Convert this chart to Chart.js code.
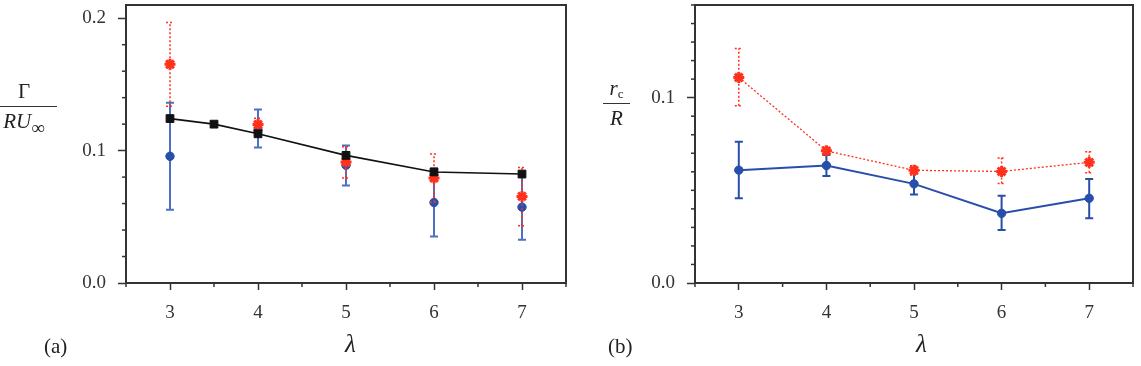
<!DOCTYPE html>
<html>
<head>
<meta charset="utf-8">
<script src="https://cdn.jsdelivr.net/npm/chart.js@4"></script>
<style>
  body { margin: 0; background: #fff; }
  #wrap { position: relative; width: 1141px; height: 366px; overflow: hidden; }
  canvas { position: absolute; top: 0; }
  .lab { position: absolute; font-family: "Liberation Serif", serif; color: #222; font-size: 21px; line-height: 22px; }
  .frac { text-align: center; }
  .frac .num { border-bottom: 1.4px solid #333; padding-bottom: 4px; }
  .frac .den { padding-top: 3px; }
  sub { font-size: 14px; vertical-align: -5px; line-height: 0; }
</style>
</head>
<body>
<div id="wrap">
  <canvas id="chartA" width="570" height="366" style="left:0"></canvas>
  <canvas id="chartB" width="571" height="366" style="left:570px"></canvas>

  <div class="lab frac" style="left:-9px;top:80px;width:66px">
    <div class="num">Γ</div>
    <div class="den"><i>RU</i><sub style="font-size:19px;vertical-align:-6px">∞</sub></div>
  </div>
  <div class="lab frac" style="left:603px;top:77px;width:27px">
    <div class="num"><i>r</i><sub style="font-size:13px;vertical-align:-3px">c</sub></div>
    <div class="den"><i>R</i></div>
  </div>
  <div class="lab" style="left:44px;top:335px">(a)</div>
  <div class="lab" style="left:608px;top:335px">(b)</div>
  <div class="lab" style="left:345px;top:333px;font-size:25px"><i>λ</i></div>
  <div class="lab" style="left:916px;top:333px;font-size:25px"><i>λ</i></div>
</div>

<script>
// λ の値
const lambdas = [3, 4, 5, 6, 7];
const lambdasBlack = [3, 3.5, 4, 5, 6, 7];

// (a) Γ/(R U∞)
const gammaBlack = [0.1242, 0.1200, 0.1127, 0.0964, 0.0839, 0.0823];
const gammaBlue = [0.0957, 0.1155, 0.0889, 0.0608, 0.0573];
const gammaBlueLow = [0.0553, 0.1023, 0.0737, 0.0351, 0.0326];
const gammaBlueHigh = [0.1361, 0.1310, 0.1038, 0.0865, 0.0820];
const gammaRed = [0.1652, 0.1197, 0.0914, 0.0793, 0.0654];
const gammaRedLow = [0.1336, 0.1150, 0.0793, 0.0610, 0.0432];
const gammaRedHigh = [0.1967, 0.1245, 0.1030, 0.0975, 0.0873];

// (b) r_c/R
const rcBlue = [0.0609, 0.0634, 0.0535, 0.0376, 0.0457];
const rcBlueLow = [0.0457, 0.0578, 0.0478, 0.0286, 0.0349];
const rcBlueHigh = [0.0762, 0.0690, 0.0592, 0.0471, 0.0561];
const rcRed = [0.1109, 0.0713, 0.0608, 0.0602, 0.0651];
const rcRedLow = [0.0956, 0.0693, 0.0583, 0.0537, 0.0595];
const rcRedHigh = [0.1265, 0.0733, 0.0633, 0.0675, 0.0708];

// 目盛ラベル
const xTickLabels = ['3', '4', '5', '6', '7'];
const yTickLabelsA = ['0.0', '0.1', '0.2'];
const yTickLabelsB = ['0.0', '0.1'];

const BLUE = 'rgb(40, 78, 172)';
const BLUE_ERR = 'rgb(78, 112, 192)';
const RED = 'rgb(255, 48, 28)';
const AXIS = '#333';
const FONT = { family: '"Liberation Serif", serif', size: 19 };

const pts = (xs, ys) => xs.map((x, i) => ({ x: x, y: ys[i] }));

function steps(a, b, s) {
    const out = [];
    for (let i = 0; a + i * s <= b + 1e-9; i++) out.push(Math.round((a + i * s) * 1000) / 1000);
    return out;
}

// エラーバー・枠線・短い目盛
const extras = {
    id: 'extras',
    beforeDatasetDraw(chart, args) {
        const ds = chart.data.datasets[args.index];
        if (!ds.errLow) return;
        const ctx = chart.ctx;
        const ys = chart.scales.y;
        ctx.save();
        ctx.strokeStyle = ds.errColor;
        ctx.lineWidth = ds.errWidth;
        ctx.setLineDash(ds.errDash || []);
        args.meta.data.forEach((p, i) => {
            const lo = ys.getPixelForValue(ds.errLow[i]);
            const hi = ys.getPixelForValue(ds.errHigh[i]);
            ctx.beginPath();
            ctx.moveTo(p.x, lo); ctx.lineTo(p.x, hi);
            ctx.moveTo(p.x - 4, lo); ctx.lineTo(p.x + 4, lo);
            ctx.moveTo(p.x - 4, hi); ctx.lineTo(p.x + 4, hi);
            ctx.stroke();
        });
        ctx.restore();
    },
    afterDraw(chart) {
        const ctx = chart.ctx;
        const a = chart.chartArea;
        ctx.save();
        ctx.strokeStyle = AXIS;
        ctx.lineWidth = 1.5;
        chart.scales.x.ticks.forEach(t => {
            if (xTickLabels.includes(String(t.value))) return;
            const px = chart.scales.x.getPixelForValue(t.value);
            ctx.beginPath(); ctx.moveTo(px, a.bottom); ctx.lineTo(px, a.bottom + 4); ctx.stroke();
        });
        chart.scales.y.ticks.forEach(t => {
            if (t.label) return;
            const py = chart.scales.y.getPixelForValue(t.value);
            ctx.beginPath(); ctx.moveTo(a.left - 4, py); ctx.lineTo(a.left, py); ctx.stroke();
        });
        ctx.lineWidth = 2;
        ctx.strokeRect(a.left, a.top, a.right - a.left, a.bottom - a.top);
        ctx.restore();
    }
};

function makeOptions(yMax, yTicks, yLabels, yWidth, padRight) {
    return {
        responsive: false,
        animation: false,
        layout: { autoPadding: false, padding: { top: 5, right: padRight, left: 0, bottom: 0 } },
        plugins: { legend: { display: false }, tooltip: { enabled: false } },
        scales: {
            x: {
                type: 'linear',
                min: 2.5,
                max: 7.5,
                ticks: {
                    stepSize: 0.5,
                    autoSkip: false,
                    maxRotation: 0,
                    padding: 12,
                    color: '#333',
                    font: FONT,
                    callback: v => xTickLabels.includes(String(v)) ? String(v) : ''
                },
                grid: {
                    drawOnChartArea: false,
                    tickLength: 7,
                    tickWidth: 1.5,
                    tickColor: c => (c.tick && xTickLabels.includes(String(c.tick.value))) ? AXIS : 'rgba(0,0,0,0)'
                },
                border: { display: false },
                afterFit: s => { s.height = 83; s.paddingLeft = 0; s.paddingRight = 0; }
            },
            y: {
                min: 0,
                max: yMax,
                afterBuildTicks: s => { s.ticks = yTicks.map(v => ({ value: v })); },
                ticks: {
                    autoSkip: false,
                    padding: 12,
                    color: '#333',
                    font: FONT,
                    callback: v => {
                        const lab = v.toFixed(1);
                        return (Math.abs(v * 10 - Math.round(v * 10)) < 1e-6 && yLabels.includes(lab)) ? lab : '';
                    }
                },
                grid: {
                    drawOnChartArea: false,
                    tickLength: 8,
                    tickWidth: 1.5,
                    tickColor: c => (c.tick && Math.abs(c.tick.value * 10 - Math.round(c.tick.value * 10)) < 1e-6) ? AXIS : 'rgba(0,0,0,0)'
                },
                border: { display: false },
                afterFit: s => { s.width = yWidth; s.paddingTop = 0; s.paddingBottom = 0; }
            }
        }
    };
}

// (a)
new Chart(document.getElementById('chartA'), {
    type: 'scatter',
    data: {
        datasets: [
            {
                data: pts(lambdasBlack, gammaBlack),
                showLine: true,
                borderColor: '#111',
                borderWidth: 1.6,
                pointStyle: 'rect',
                pointRadius: 5.5,
                pointBackgroundColor: '#111',
                pointBorderColor: '#111',
                pointBorderWidth: 1,
                order: 0
            },
            {
                data: pts(lambdas, gammaRed),
                showLine: false,
                pointStyle: 'star',
                pointRadius: 5.5,
                pointBorderWidth: 3,
                pointBorderColor: RED,
                pointBackgroundColor: RED,
                errLow: gammaRedLow, errHigh: gammaRedHigh,
                errColor: RED, errWidth: 1.5, errDash: [2, 2],
                order: 1
            },
            {
                data: pts(lambdas, gammaBlue),
                showLine: false,
                pointStyle: 'circle',
                pointRadius: 4.2,
                pointBorderWidth: 1,
                pointBorderColor: BLUE,
                pointBackgroundColor: BLUE,
                errLow: gammaBlueLow, errHigh: gammaBlueHigh,
                errColor: BLUE_ERR, errWidth: 2,
                order: 2
            }
        ]
    },
    options: makeOptions(0.21, steps(0, 0.2, 0.02), yTickLabelsA, 126, 4),
    plugins: [extras]
});

// (b)
new Chart(document.getElementById('chartB'), {
    type: 'scatter',
    data: {
        datasets: [
            {
                data: pts(lambdas, rcRed),
                showLine: true,
                borderColor: RED,
                borderWidth: 1.3,
                borderDash: [2, 2],
                pointStyle: 'star',
                pointRadius: 5.5,
                pointBorderWidth: 3,
                pointBorderColor: RED,
                pointBackgroundColor: RED,
                errLow: rcRedLow, errHigh: rcRedHigh,
                errColor: RED, errWidth: 1.5, errDash: [2, 2],
                order: 0
            },
            {
                data: pts(lambdas, rcBlue),
                showLine: true,
                borderColor: BLUE,
                borderWidth: 2,
                pointStyle: 'circle',
                pointRadius: 4.2,
                pointBorderWidth: 1,
                pointBorderColor: BLUE,
                pointBackgroundColor: BLUE,
                errLow: rcBlueLow, errHigh: rcBlueHigh,
                errColor: BLUE, errWidth: 2,
                order: 1
            }
        ]
    },
    options: makeOptions(0.15, steps(0, 0.15, 0.01), yTickLabelsB, 125, 8),
    plugins: [extras]
});
</script>
</body>
</html>
